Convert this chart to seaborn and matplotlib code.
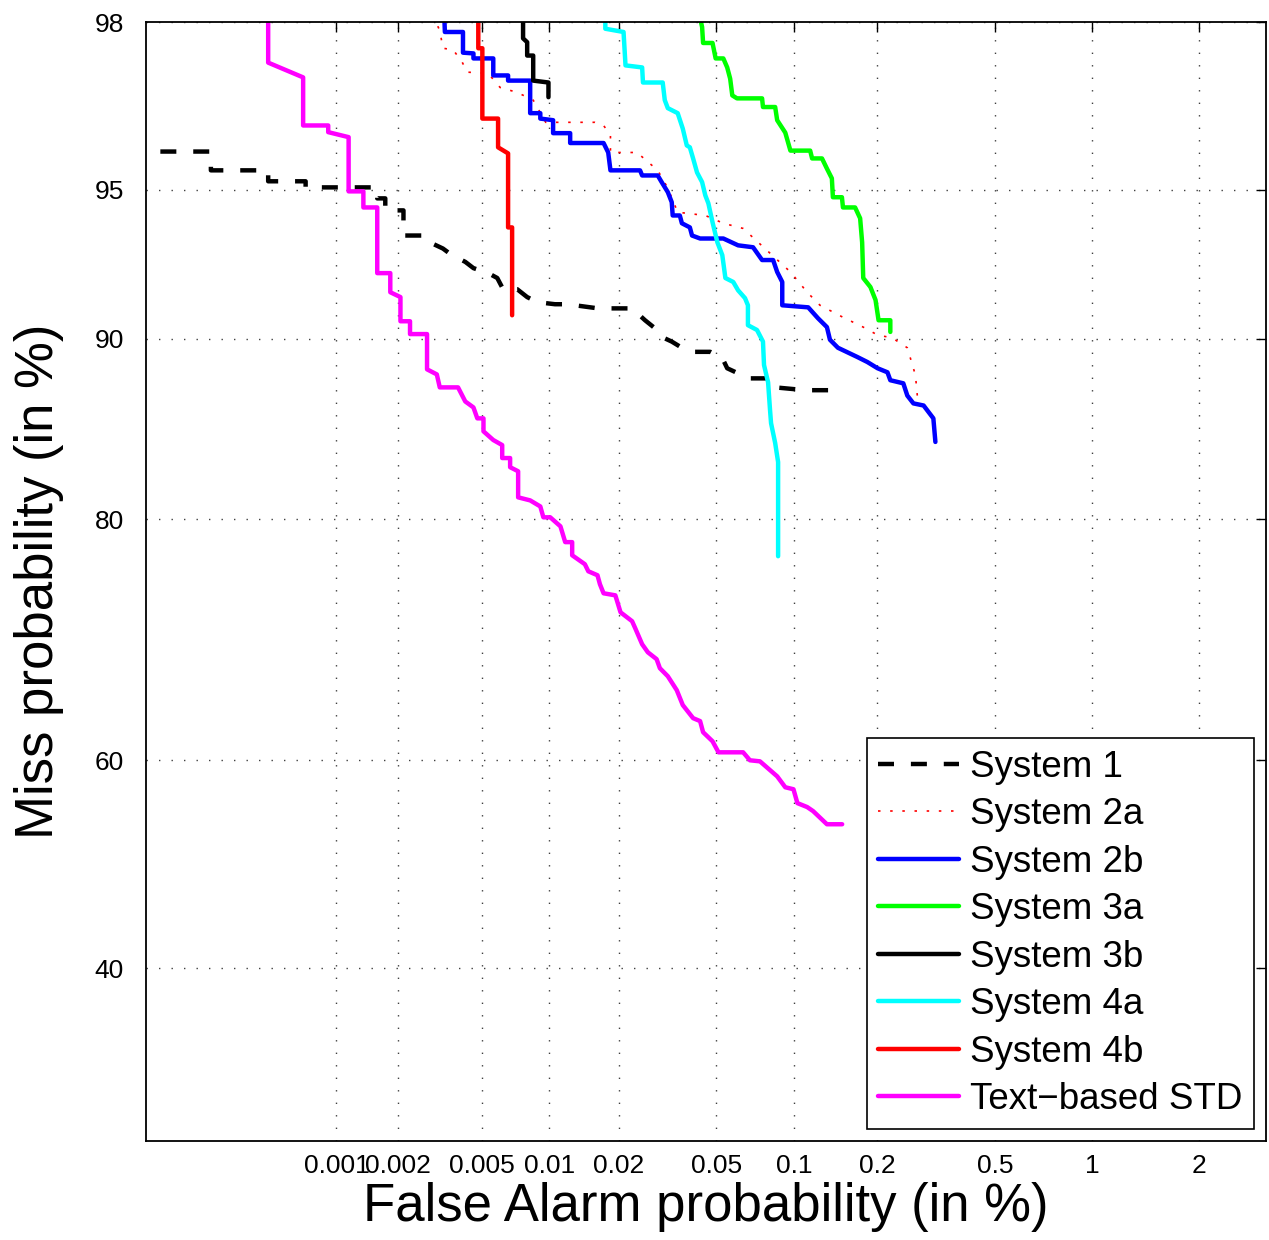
import numpy as np
import matplotlib
matplotlib.use("Agg")
import matplotlib.pyplot as plt
import seaborn as sns
from statistics import NormalDist

sns.set_style("white")
plt.rcParams['font.family'] = ['Liberation Sans', 'DejaVu Sans']
plt.rcParams.update({'text.color': 'black', 'axes.labelcolor': 'black',
                     'xtick.color': 'black', 'ytick.color': 'black'})

# DET curves: false alarm / miss probability, both in %
fa_sys1 = [0.00012, 0.000225, 0.000225, 0.00045, 0.00045, 0.0007, 0.0007, 0.00159, 0.00159, 0.00174,
           0.00174, 0.00213, 0.00213, 0.0027, 0.00285, 0.00328, 0.00361, 0.00417, 0.00455, 0.00532,
           0.00585, 0.00622, 0.0072, 0.00798, 0.00885, 0.0106, 0.012, 0.0163, 0.0227, 0.0257,
           0.0282, 0.0301, 0.0331, 0.0364, 0.0411, 0.0473, 0.0528, 0.0552, 0.0609, 0.0677,
           0.0795, 0.0846, 0.11, 0.135]
miss_sys1 = [95.89, 95.89, 95.47, 95.47, 95.21, 95.21, 95.06, 95.06, 94.78, 94.78,
             94.46, 94.46, 93.74, 93.74, 93.53, 93.34, 93.13, 92.91, 92.70, 92.53,
             92.36, 91.96, 91.96, 91.67, 91.48, 91.40, 91.40, 91.24, 91.24, 90.77,
             90.45, 90.08, 89.88, 89.61, 89.43, 89.43, 89.15, 88.68, 88.44, 88.20,
             88.20, 87.76, 87.62, 87.62]

fa_sys2a = [0.00276, 0.00317, 0.00328, 0.00366, 0.00403, 0.00426, 0.00532, 0.00603, 0.0072, 0.00849,
            0.00965, 0.0158, 0.0172, 0.0184, 0.0184, 0.0238, 0.029, 0.0319, 0.035, 0.0452,
            0.0533, 0.0637, 0.0809, 0.0966, 0.1116, 0.1245, 0.151, 0.1786, 0.2008, 0.226,
            0.255, 0.272, 0.276]
miss_sys2a = [98.2, 97.90, 97.67, 97.65, 97.48, 97.33, 97.31, 97.09, 97.01, 96.88,
              96.48, 96.48, 96.42, 96.23, 95.87, 95.87, 95.47, 95.04, 94.41, 94.32,
              94.10, 93.95, 93.19, 92.57, 91.85, 91.36, 90.89, 90.49, 90.16, 90.04,
              89.61, 88.35, 87.35]

fa_sys2b = [0.0033, 0.00335, 0.00407, 0.00407, 0.00455, 0.00455, 0.00561, 0.00561, 0.00655, 0.00655,
            0.00823, 0.00823, 0.00913, 0.00913, 0.0104, 0.0104, 0.01235, 0.01235, 0.0172, 0.018,
            0.0184, 0.0245, 0.025, 0.029, 0.0301, 0.0319, 0.0331, 0.0334, 0.0357, 0.0364,
            0.0392, 0.04, 0.0431, 0.0533, 0.0609, 0.0696, 0.0754, 0.0831, 0.0861, 0.09,
            0.09, 0.1126, 0.1224, 0.132, 0.1354, 0.1448, 0.17, 0.1847, 0.2008, 0.2175,
            0.2226, 0.247, 0.255, 0.2676, 0.29, 0.313, 0.318]
miss_sys2b = [98.3, 97.88, 97.88, 97.61, 97.60, 97.53, 97.53, 97.28, 97.28, 97.20,
              97.20, 96.65, 96.65, 96.55, 96.52, 96.27, 96.27, 96.07, 96.07, 95.87,
              95.47, 95.47, 95.35, 95.35, 95.19, 94.94, 94.68, 94.32, 94.32, 94.10,
              93.98, 93.74, 93.65, 93.65, 93.44, 93.38, 92.97, 92.97, 92.57, 92.22,
              91.36, 91.28, 90.85, 90.49, 89.96, 89.61, 89.20, 88.97, 88.68, 88.49,
              88.11, 87.96, 87.35, 86.95, 86.84, 86.16, 84.85]

fa_sys3a = [0.0419, 0.0439, 0.0443, 0.0483, 0.0497, 0.0533, 0.0552, 0.0567, 0.0578, 0.0603,
            0.0754, 0.076, 0.0846, 0.0861, 0.0924, 0.0966, 0.1145, 0.1164, 0.1266, 0.132,
            0.1376, 0.1388, 0.1497, 0.151, 0.167, 0.1741, 0.177, 0.1786, 0.1894, 0.1975,
            0.2024, 0.2226, 0.2226]
miss_sys3a = [98.2, 97.94, 97.74, 97.74, 97.53, 97.53, 97.40, 97.23, 96.96, 96.91,
              96.91, 96.76, 96.76, 96.52, 96.28, 95.91, 95.91, 95.74, 95.74, 95.51,
              95.28, 94.81, 94.81, 94.54, 94.54, 94.24, 93.53, 92.36, 92.04, 91.56,
              90.77, 90.77, 90.29]

fa_sys3b = [0.00765, 0.00765, 0.00798, 0.00798, 0.00849, 0.00849, 0.00992, 0.00992]
miss_sys3b = [98.5, 97.80, 97.75, 97.57, 97.57, 97.20, 97.17, 96.93]

fa_sys4a = [0.0175, 0.0175, 0.0209, 0.0213, 0.025, 0.0252, 0.0304, 0.031, 0.0319, 0.035,
            0.0367, 0.0381, 0.0392, 0.0404, 0.0419, 0.0439, 0.0452, 0.0465, 0.0483, 0.0505,
            0.0528, 0.0543, 0.0583, 0.0609, 0.0648, 0.0665, 0.0665, 0.0721, 0.076, 0.0767,
            0.0795, 0.0809, 0.0816, 0.0846, 0.0868, 0.0868]
miss_sys4a = [98.2, 97.92, 97.88, 97.43, 97.40, 97.17, 97.17, 96.88, 96.74, 96.65,
              96.36, 96.02, 95.98, 95.74, 95.42, 95.19, 94.86, 94.65, 94.13, 93.53,
              93.13, 92.36, 92.22, 91.92, 91.63, 91.36, 90.57, 90.37, 89.88, 88.83,
              88.01, 86.58, 85.90, 84.79, 83.67, 77.38]

fa_sys4b = [0.00479, 0.00479, 0.005, 0.005, 0.0059, 0.0059, 0.00655, 0.00655, 0.00683, 0.00683]
miss_sys4b = [98.5, 97.67, 97.67, 96.55, 96.55, 95.98, 95.85, 93.98, 93.98, 90.97]

fa_text = [0.00045, 0.00045, 0.00068, 0.00068, 0.00091, 0.00091, 0.00115, 0.00115, 0.00136, 0.00136,
           0.00159, 0.00159, 0.00184, 0.00184, 0.00206, 0.00206, 0.00229, 0.00229, 0.00276, 0.00276,
           0.00307, 0.00317, 0.00386, 0.00417, 0.00455, 0.00474, 0.00506, 0.00506, 0.00561, 0.00616,
           0.00616, 0.00669, 0.00669, 0.00727, 0.00727, 0.00823, 0.00913, 0.00942, 0.0101, 0.0112,
           0.01175, 0.0126, 0.0126, 0.0143, 0.0148, 0.0162, 0.0166, 0.0172, 0.0193, 0.0203,
           0.0227, 0.0234, 0.025, 0.0264, 0.0287, 0.0296, 0.0319, 0.0347, 0.0367, 0.0404,
           0.0431, 0.0443, 0.0483, 0.051, 0.0637, 0.0677, 0.074, 0.0861, 0.0924, 0.0992,
           0.1026, 0.1116, 0.1174, 0.132, 0.15]
miss_text = [98.5, 97.47, 97.25, 96.42, 96.42, 96.29, 96.19, 94.96, 94.96, 94.54,
             94.54, 92.53, 92.53, 91.85, 91.67, 90.73, 90.73, 90.20, 90.20, 88.63,
             88.39, 87.76, 87.76, 87.05, 86.74, 86.16, 86.16, 85.45, 84.96, 84.67,
             83.91, 83.91, 83.36, 83.11, 81.46, 81.26, 80.86, 80.13, 80.13, 79.51,
             78.40, 78.40, 77.45, 76.79, 76.26, 75.96, 75.27, 74.57, 74.41, 73.06,
             72.34, 71.76, 70.43, 69.75, 69.16, 68.38, 67.68, 66.45, 65.12, 63.93,
             63.66, 62.64, 61.80, 60.77, 60.77, 60.02, 59.92, 58.50, 57.46, 57.27,
             55.94, 55.56, 55.17, 53.90, 53.90]

labels = ['System 1', 'System 2a', 'System 2b', 'System 3a', 'System 3b',
          'System 4a', 'System 4b', 'Text\u2212based STD']
fa_all = [fa_sys1, fa_sys2a, fa_sys2b, fa_sys3a, fa_sys3b, fa_sys4a, fa_sys4b, fa_text]
miss_all = [miss_sys1, miss_sys2a, miss_sys2b, miss_sys3a, miss_sys3b, miss_sys4a, miss_sys4b, miss_text]

x_ticks = [0.001, 0.002, 0.005, 0.01, 0.02, 0.05, 0.1, 0.2, 0.5, 1, 2]
x_ticklabels = ['0.001', '0.002', '0.005', '0.01', '0.02', '0.05', '0.1', '0.2', '0.5', '1', '2']
y_ticks = [40, 60, 80, 90, 95, 98]
y_ticklabels = ['40', '60', '80', '90', '95', '98']

colors = ['black', '#ff0000', '#0000ff', '#00ff00', 'black', '#00ffff', '#ff0000', '#ff00ff']
styles = [(0, (3.6, 3.8)), (0, (1.5, 5.8)), '-', '-', '-', '-', '-', '-']
widths = [3.2, 1.2, 3.2, 3.2, 3.2, 3.2, 3.2, 3.2]

# normal deviate scale (DET plot)
_nd = NormalDist()
_ppf = np.vectorize(_nd.inv_cdf, otypes=[float])
_cdf = np.vectorize(_nd.cdf, otypes=[float])


def probit(p):
    q = np.asarray(p, dtype=float) / 100.0
    ok = np.isfinite(q)
    q = np.where(ok, np.clip(q, 1e-12, 1 - 1e-12), 0.5)
    return np.where(ok, _ppf(q), np.nan)


def inv_probit(z):
    return 100.0 * _cdf(np.asarray(z, dtype=float))


fig = plt.figure(figsize=(12.69, 12.40), dpi=100)
ax = fig.add_axes([0.1150, 0.0798, 0.8826, 0.9024])
ax.set_xscale('function', functions=(probit, inv_probit))
ax.set_yscale('function', functions=(probit, inv_probit))

for lab, fa, miss, c, ls, lw in zip(labels, fa_all, miss_all, colors, styles, widths):
    sns.lineplot(x=fa, y=miss, color=c, linestyle=ls, linewidth=lw, estimator=None,
                 sort=False, legend=False, label=lab, ax=ax)

ax.set_xlim(0.0001, 3)
ax.set_ylim(25, 98)
ax.set_xticks(x_ticks, x_ticklabels)
ax.set_yticks(y_ticks, y_ticklabels)
ax.minorticks_off()

ax.grid(True, linestyle=(0, (1, 8)), color='0.25', linewidth=1.0)
ax.tick_params(axis='both', direction='in', length=7, width=1, labelsize=19,
               top=True, right=True, colors='black')
ax.tick_params(axis='y', pad=16)
ax.tick_params(axis='x', pad=9)
for s in ax.spines.values():
    s.set_color('black')
    s.set_linewidth(1.3)

ax.set_xlabel('False Alarm probability (in %)', fontsize=38)
ax.set_ylabel('Miss probability (in %)', fontsize=38)
ax.xaxis.set_label_coords(0.5, -0.037)
ax.yaxis.set_label_coords(-0.073, 0.5)

leg = ax.legend(loc='lower right', fontsize=26.5, handlelength=2.2, handletextpad=0.28,
                labelspacing=0.34, borderpad=0.32, borderaxespad=0.33, fancybox=False,
                framealpha=1, edgecolor='black')
leg.get_frame().set_linewidth(1.2)

fig.savefig('out.png', dpi=100)
